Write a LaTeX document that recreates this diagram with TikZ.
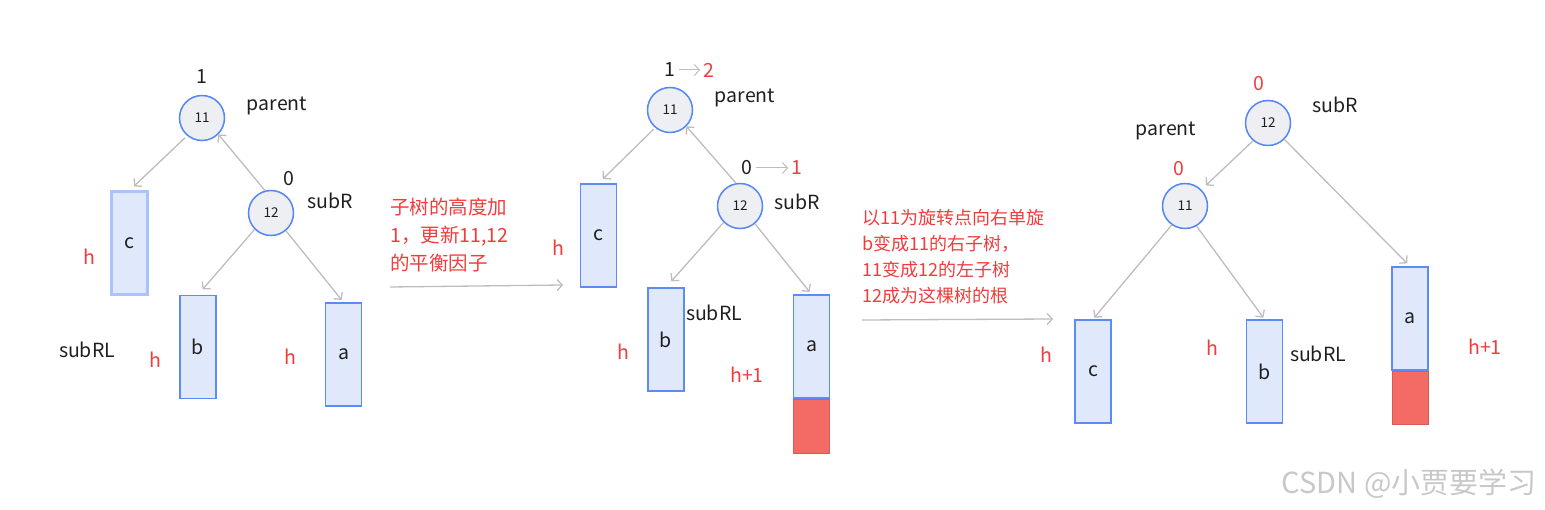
\documentclass[tikz,border=0pt]{standalone}
\usepackage{fontspec}
\setmainfont{Noto Sans CJK SC}
\usetikzlibrary{arrows.meta}
\definecolor{ringblue}{HTML}{5486F6}
\definecolor{nodegray}{HTML}{EEEFF2}
\definecolor{boxblue}{HTML}{5B8CF5}
\definecolor{boxpale}{HTML}{AAC3F8}
\definecolor{boxfill}{HTML}{E0E8FC}
\definecolor{growfill}{HTML}{F46A64}
\definecolor{growred}{HTML}{DC5A55}
\definecolor{notered}{HTML}{F03C3C}
\definecolor{inkblack}{HTML}{1F1F1F}
\definecolor{linkgray}{HTML}{BDBDBD}
\definecolor{markgray}{HTML}{C8C8C8}

\begin{document}
\begin{tikzpicture}[x=1pt,y=-1pt,>={Straight Barb[length=5pt,width=11pt]},
	nd/.style={circle,draw=ringblue,line width=1.5pt,fill=nodegray,minimum size=45pt,inner sep=0pt,text=inkblack,font=\fontsize{13.5}{13.5}\selectfont},
	tree/.style={draw=boxblue,line width=1.5pt,fill=boxfill,minimum width=36pt,minimum height=103pt,inner sep=0pt,text=inkblack,font=\fontsize{19.5}{19.5}\selectfont},
	extrabox/.style={draw=growred,line width=1pt,fill=growfill,minimum width=36pt,inner sep=0pt},
	lbl/.style={text=inkblack,font=\fontsize{19.5}{19.5}\selectfont},
	hl/.style={text=notered,font=\fontsize{19.5}{19.5}\selectfont},
	link/.style={->,draw=linkgray,line width=1.3pt},
	note/.style={text=notered,align=left,anchor=west,inner sep=0pt}]
		\useasboundingbox (0,0) rectangle (1545,510);

		% before: 11 with right child 12
		\node[nd] (p1) at (202,118) {11};
		\node[nd] (r1) at (271,213) {12};
		\node[tree,draw=boxpale,line width=3pt] (c1) at (129.5,243.5) {c};
		\node[tree] (b1) at (198,347) {b};
		\node[tree] (a1) at (343.5,354.5) {a};
		\draw[link,shorten <=3pt,shorten >=6pt] (p1.-130) -- (c1.north);
		\draw[link] (r1.105) -- (p1.-45);
		\draw[link,shorten >=7pt] (r1.-135) -- (b1.north);
		\draw[link,shorten >=3pt] (r1.-50) -- (a1.north);
		\node[lbl] (bf1) at (202,77) {1};
		\node[lbl] (tp1) at (277,106) {parent};
		\node[lbl] (bf2) at (289,179) {0};
		\node[lbl] (tr1) at (330,201) {subR};
		\node[lbl] (tl1) at (87,350) {subRL};
		\node[hl] (hc1) at (89,257) {h};
		\node[hl] (hb1) at (155,360) {h};
		\node[hl] (ha1) at (290,357) {h};

		% step 1
		\node[note,font=\fontsize{19.5}{28}\selectfont] (txt1) at (390,235) {子树的高度加\\1，更新11,12\\的平衡因子};
		\coordinate (s1) at (390,287);
		\coordinate (e1) at (563,285);
		\draw[link] (s1) -- (e1);

		% after insert: a grows to h+1
		\node[nd] (p2) at (670,110) {11};
		\node[nd] (r2) at (740,206) {12};
		\node[tree] (c2) at (598.5,235.5) {c};
		\node[tree] (b2) at (666,339.5) {b};
		\node[tree] (a2) at (811.5,346.5) {a};
		\node[extrabox,minimum height=54pt,anchor=north] (g2) at (a2.south) {};
		\draw[link,shorten <=2pt,shorten >=6pt] (p2.-130) -- (c2.north);
		\draw[link] (r2.100) -- (p2.-45);
		\draw[link,shorten >=8pt] (r2.-135) -- (b2.north);
		\draw[link,shorten >=3pt] (r2.-50) -- (a2.north);
		\node[lbl] (bf3) at (670,70) {1};
		\node[hl] (bf4) at (709,70) {2};
		\draw[link,line width=1pt] (bf3) -- (bf4);
		\node[lbl] (bf5) at (747,168) {0};
		\node[hl] (bf6) at (797,168) {1};
		\draw[link,line width=1pt] (bf5) -- (bf6);
		\node[lbl] (tp2) at (745,98) {parent};
		\node[lbl] (tr2) at (797,202) {subR};
		\node[lbl] (tl2) at (714,313) {subRL};
		\node[hl] (hc2) at (558,248) {h};
		\node[hl] (hb2) at (623,352) {h};
		\node[hl] (ha2) at (747,375) {h+1};

		% step 2
		\node[note,font=\fontsize{18}{26}\selectfont] (txt2) at (862,257) {以11为旋转点向右单旋\\b变成11的右子树，\\11变成12的左子树\\12成为这棵树的根};
		\coordinate (s2) at (862,320);
		\coordinate (e2) at (1053,319);
		\draw[link] (s2) -- (e2);

		% after left rotation
		\node[nd] (r3) at (1268,123) {12};
		\node[nd] (p3) at (1185,206) {11};
		\node[tree] (c3) at (1093,371.5) {c};
		\node[tree] (b3) at (1264.5,371.5) {b};
		\node[tree] (a3) at (1410,318.5) {a};
		\node[extrabox,minimum height=53pt,anchor=north] (g3) at (a3.south) {};
		\draw[link,shorten >=6pt] (r3.-130) -- (p3.45);
		\draw[link,shorten >=4pt] (r3.-45) -- (a3.north);
		\draw[link,shorten >=2pt] (p3.-125) -- (c3.north);
		\draw[link,shorten >=2pt] (p3.-60) -- (b3.north);
		\node[hl] (bf7) at (1259,84) {0};
		\node[lbl] (tr3) at (1335,105) {subR};
		\node[lbl] (tp3) at (1166,131) {parent};
		\node[hl] (bf8) at (1179,169) {0};
		\node[lbl] (tl3) at (1318,354) {subRL};
		\node[hl] (hc3) at (1046,355) {h};
		\node[hl] (hb3) at (1212,348) {h};
		\node[hl] (ha3) at (1485,347) {h+1};

		\node[text=markgray,anchor=east,font=\fontsize{29}{29}\selectfont] (mark) at (1540,484) {CSDN @小贾要学习};
\end{tikzpicture}
\end{document}
